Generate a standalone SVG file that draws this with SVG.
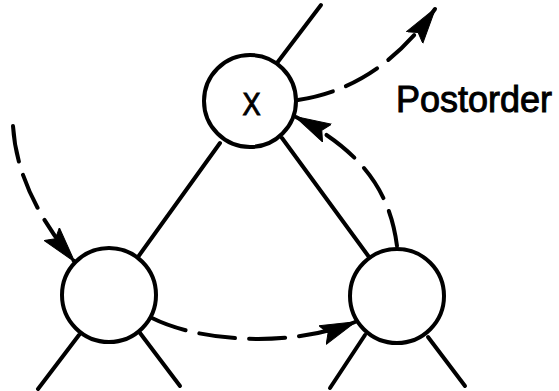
<svg xmlns="http://www.w3.org/2000/svg" width="559" height="391" viewBox="0 0 559 391">
<defs>
<style>
.edge{stroke:#000;stroke-width:4;fill:none;stroke-linecap:round}
.trav{stroke:#000;stroke-width:4;fill:none;stroke-linecap:round;stroke-dasharray:36 14}
.node{fill:#fff;stroke:#000;stroke-width:4}
.lbl{font-family:"Liberation Sans","DejaVu Sans",sans-serif;fill:#000;stroke:#000;stroke-width:1}
</style>
<marker id="ah" markerUnits="userSpaceOnUse" viewBox="0 0 36 22" refX="35" refY="11" markerWidth="36" markerHeight="22" orient="auto">
<path d="M0,1 L36,11 L0,21 L6,11 z" fill="#000" stroke="#000" stroke-width="1" stroke-linejoin="round"/>
</marker>
</defs>
<rect width="559" height="391" fill="#fff"/>
<g id="connectors">
<line class="edge" x1="277" y1="63" x2="321" y2="5"/>
<line class="edge" x1="220" y1="143" x2="138" y2="257"/>
<line class="edge" x1="282" y1="138" x2="369" y2="257"/>
<line class="edge" x1="79" y1="335" x2="38" y2="389"/>
<line class="edge" x1="140" y1="333" x2="180" y2="386"/>
<line class="edge" x1="365" y1="335" x2="330" y2="388"/>
<line class="edge" x1="428" y1="337" x2="465" y2="386"/>
<path class="trav" d="M13,126 C16,175 40,220 74,261" marker-end="url(#ah)"/>
<path class="trav" d="M152,318 C200,342 290,348 355,322" marker-end="url(#ah)"/>
<path class="trav" d="M397,246 C390,190 360,150 296,117" marker-end="url(#ah)"/>
<path class="trav" d="M298,100 C350,92 395,65 435,9" marker-end="url(#ah)"/>
</g>
<g id="node-x">
<circle class="node" cx="250" cy="101" r="46"/>
<text class="lbl" x="0" y="0" font-size="32" text-anchor="middle" transform="translate(251.5,115) scale(0.85,1)">X</text>
</g>
<g id="node-left">
<circle class="node" cx="109" cy="295" r="47"/>
</g>
<g id="node-right">
<circle class="node" cx="397" cy="296" r="47"/>
</g>
<g id="label-postorder">
<text class="lbl" x="396" y="112" font-size="37" textLength="156" lengthAdjust="spacingAndGlyphs">Postorder</text>
</g>
</svg>
